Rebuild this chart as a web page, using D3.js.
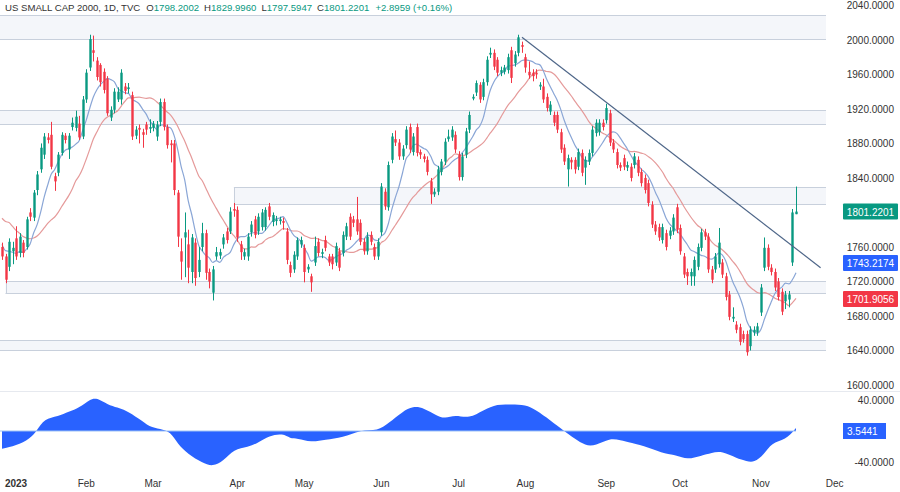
<!DOCTYPE html>
<html>
<head>
<meta charset="utf-8">
<script src="https://cdn.jsdelivr.net/npm/d3@7"></script>
<style>
  body { margin: 0; background: #fff; }
  svg { font-family: "Liberation Sans", Arial, sans-serif; }
</style>
</head>
<body>
<svg id="chart" width="900" height="492"></svg>
<script>
// candles (last days of Dec 2022 through 14 Nov 2023)
var opens = [1760,1749,1737,1755,1770,1753,1765,1760,1800,1794,1826,1850,1867,1887,1890,1842,1846,1869,1889,1873,1899,1898,1903,1888,1931,1968,1988,1976,1971,1963,1955,1910,1919,1931,1931,1946,1943,1936,1889,1898,1893,1902,1897,1898,1888,1905,1928,1899,1880,1880,1823,1755,1771,1763,1731,1765,
  1731,1760,1776,1731,1707,1749,1750,1763,1778,1778,1804,1803,1763,1749,1749,1777,1792,1778,1783,1783,1807,1789,1790,1790,1790,1778,1739,1734,1749,1763,1759,1734,1726,1742,1766,1752,1768,1749,1749,1742,1755,1753,1772,1795,1792,1792,1788,1766,1755,1774,1760,1749,1777,1824,1806,1861,1885,
  1881,1865,1878,1899,1870,1899,1870,1865,1861,1836,1821,1824,1847,1859,1885,1887,1890,1867,1841,1867,1896,1932,1939,1948,1934,1951,1983,1985,1977,1962,1963,1965,1988,1973,1985,1994,1980,1963,1962,1962,1946,1946,1934,1917,1913,1913,1893,1875,1850,1861,1861,1853,1869,1852,1859,1869,1892,1893,1904,1907,1915,1881,1870,1855,1863,1852,1853,1855,1861,1847,1840,1834,1809,1786,1783,1768,1776,1773,1778,1806,1782,1749,1731,1726,1726,1737,1759,1777,1772,1734,1734,1740,1742,1726,1705,1677,1670,1667,1659,1659,1645,1661,1661,1684,1736,1759,1736,1731,1720,1708,1697,1699,1742,1798];
var highs = [1765,1752,1770,1766,1784,1776,1768,1795,1805,1826,1848,1880,1892,1892,1905,1846,1870,1893,1892,1892,1910,1918,1912,1935,1966,2006,2005,1980,1973,1967,1958,1923,1944,1945,1966,1950,1950,1940,1900,1902,1897,1905,1908,1906,1906,1932,1932,1902,1884,1884,1826,1770,1800,1780,1775,1770,
  1760,1788,1780,1735,1738,1760,1758,1775,1782,1806,1811,1807,1767,1758,1776,1790,1796,1799,1804,1806,1811,1800,1796,1795,1794,1782,1743,1755,1771,1772,1763,1740,1729,1772,1770,1758,1773,1752,1752,1765,1759,1778,1788,1799,1796,1818,1792,1770,1777,1778,1764,1770,1834,1828,1859,1892,1895,
  1885,1878,1900,1903,1892,1903,1873,1868,1865,1840,1828,1854,1862,1886,1896,1900,1894,1871,1869,1898,1917,1937,1953,1951,1955,1981,1991,1989,1980,1969,1971,1984,1992,1987,2006,1998,1984,1975,1966,1966,1951,1955,1938,1929,1917,1917,1897,1879,1867,1864,1864,1874,1873,1865,1873,1900,1908,1908,1908,1926,1919,1885,1874,1858,1867,1859,1857,1869,1865,1851,1844,1838,1813,1790,1787,1787,1780,1783,1798,1810,1786,1753,1735,1735,1749,1764,1781,1781,1776,1738,1753,1782,1746,1730,1709,1690,1674,1671,1663,1663,1668,1668,1672,1717,1771,1763,1740,1735,1724,1712,1709,1709,1804,1830];
var lows = [1745,1718,1732,1740,1745,1748,1748,1757,1790,1790,1820,1846,1862,1880,1850,1825,1842,1866,1880,1862,1895,1894,1884,1885,1927,1964,1975,1953,1946,1938,1912,1906,1915,1928,1925,1937,1938,1884,1885,1880,1875,1890,1892,1894,1883,1900,1895,1874,1858,1820,1760,1722,1725,1718,1718,1715,
  1725,1755,1722,1712,1698,1745,1746,1758,1764,1775,1795,1766,1745,1745,1744,1772,1770,1774,1779,1779,1791,1784,1785,1786,1780,1740,1725,1730,1745,1759,1719,1730,1708,1738,1749,1747,1755,1738,1734,1738,1732,1749,1768,1768,1783,1774,1762,1751,1751,1762,1745,1745,1773,1803,1802,1857,1877,
  1861,1861,1874,1869,1866,1865,1862,1858,1843,1810,1818,1820,1843,1855,1882,1883,1869,1837,1837,1863,1892,1930,1935,1927,1930,1947,1979,1965,1958,1958,1960,1961,1950,1969,1981,1985,1962,1955,1952,1955,1942,1927,1917,1913,1900,1892,1869,1855,1830,1850,1845,1849,1842,1832,1855,1865,1888,1889,1895,1903,1877,1869,1851,1848,1849,1848,1836,1851,1842,1830,1822,1807,1782,1774,1767,1764,1756,1769,1774,1776,1751,1724,1716,1715,1715,1733,1755,1768,1730,1718,1730,1736,1724,1698,1675,1673,1660,1646,1649,1634,1640,1657,1657,1680,1732,1733,1727,1709,1698,1681,1688,1690,1738,1798];
var closes = [1749,1722,1766,1759,1749,1772,1753,1792,1795,1823,1844,1875,1888,1884,1853,1836,1867,1890,1884,1889,1904,1911,1887,1931,1962,2001,1985,1957,1951,1942,1915,1919,1940,1940,1962,1941,1945,1888,1896,1896,1890,1896,1899,1903,1902,1928,1899,1878,1878,1826,1772,1743,1777,1736,1771,1724,
  1745,1776,1730,1720,1734,1754,1754,1771,1768,1801,1802,1771,1754,1754,1772,1786,1774,1795,1800,1803,1795,1797,1792,1792,1788,1745,1730,1751,1768,1768,1731,1737,1719,1761,1753,1754,1759,1742,1740,1761,1736,1774,1784,1772,1788,1778,1766,1755,1772,1766,1749,1766,1830,1807,1855,1888,1881,
  1865,1874,1896,1873,1888,1869,1867,1862,1847,1821,1824,1850,1859,1882,1888,1896,1873,1841,1865,1894,1913,1934,1950,1931,1951,1977,1985,1969,1962,1965,1968,1980,1956,1983,2003,1992,1968,1959,1958,1960,1948,1931,1921,1925,1904,1896,1873,1859,1863,1858,1850,1870,1846,1861,1869,1896,1904,1904,1899,1921,1881,1873,1855,1852,1853,1855,1840,1865,1846,1834,1826,1811,1786,1778,1771,1783,1760,1779,1794,1780,1755,1728,1726,1731,1745,1760,1777,1772,1734,1722,1749,1765,1728,1702,1679,1679,1664,1650,1653,1638,1664,1664,1668,1713,1759,1737,1731,1713,1702,1685,1705,1705,1800,1801];
// closes before the first drawn candle, only feed the moving averages
var priorCloses = [1850,1842,1838,1830,1825,1812,1805,1798,1790,1785,1780,1772,1768,1760,1755,1758,1762];

var monthLabels = ["2023","Feb","Mar","Apr","May","Jun","Jul","Aug","Sep","Oct","Nov","Dec"];
var monthIdx = [4,24,43,67,86,108,130,149,172,193,216,237];
var priceTicks = [1600,1640,1680,1720,1760,1800,1840,1880,1920,1960,2000,2040];

// shaded support / resistance zones [from index, low, high]
var zones = [[-5,2001,2029],[-5,1902,1919],[66,1810,1829],[1,1707,1721],[-5,1641,1652]];
var trendIdx = [148,233];
var trendPrice = [2003,1736];

// lower pane oscillator, read at these candle indices
var oscIdx = [0,4,8,10,12,16,19,22,25,27,30,33,35,39,42,45,48,50,53,57,60,63,66,70,73,76,80,82,84,88,92,97,102,107,110,114,117,120,124,126,129,133,137,141,145,149,152,156,160,163,166,169,173,176,179,184,189,192,195,199,202,205,209,212,214,217,219,223,226];
var oscVal = [-23,-19,-10,1,16,19,25,30,41,43,34,30,27,16,5,3,-1,-17,-30,-41,-46,-39,-23,-21,-15,-6,-3,-10,-9,-15,-11,-9,2,0,10,25,32,30,19,16,21,16,27,35,34,34,27,14,0,-10,-19,-19,-9,-12,-15,-21,-30,-31,-37,-32,-28,-26,-35,-39,-41,-30,-15,-12,4];

var green = "#089981", red = "#f23645";
var fs = 10;
var svg = d3.select("#chart");
var plotR = 826;

var x = d3.scaleLinear().domain([0, 226]).range([2, 796]);
var y = d3.scaleLinear().domain([1600, 2040]).range([385, 5.4]);
var yo = d3.scaleLinear().domain([-40, 40]).range([462, 400]);

// zones: light fill, horizontal borders, left edge only where the zone starts inside the chart
zones.forEach(function(z) {
  var x0 = Math.max(0, x(z[0]));
  var yt = Math.round(y(z[2])) + 0.5, yb = Math.round(y(z[1])) + 0.5;
  svg.append("rect").attr("x", x0).attr("y", yt).attr("width", plotR - x0)
    .attr("height", yb - yt).attr("fill", "#f4f6fa");
  [yt, yb].forEach(function(yy) {
    svg.append("line").attr("x1", x0).attr("x2", plotR).attr("y1", yy).attr("y2", yy).attr("stroke", "#c8d0dc");
  });
  if (z[0] > -5) {
    svg.append("line").attr("x1", Math.round(x0) + 0.5).attr("x2", Math.round(x0) + 0.5).attr("y1", yt).attr("y2", yb).attr("stroke", "#c8d0dc");
  }
});

// moving averages
function sma(n) {
  var all = priorCloses.concat(closes), off = priorCloses.length;
  return closes.map(function(c, i) {
    var j = i + off, s = all.slice(Math.max(0, j - n + 1), j + 1);
    return d3.mean(s);
  });
}
var line = d3.line().x(function(d, i) { return x(i); }).y(function(d) { return y(d); }).curve(d3.curveMonotoneX);
svg.append("path").attr("d", line(sma(20))).attr("fill", "none").attr("stroke", "#e59a9a").attr("stroke-width", 1.2);
svg.append("path").attr("d", line(sma(8))).attr("fill", "none").attr("stroke", "#8aa6d6").attr("stroke-width", 1.2);

// candles
var cw = 2.4;
var g = svg.append("g");
closes.forEach(function(c, i) {
  var col = c >= opens[i] ? green : red;
  var cx = Math.round(x(i)) + 0.5;
  g.append("line").attr("x1", cx).attr("x2", cx).attr("y1", y(highs[i])).attr("y2", y(lows[i]))
    .attr("stroke", col).attr("stroke-width", 1);
  var top = y(Math.max(c, opens[i])), bot = y(Math.min(c, opens[i]));
  g.append("rect").attr("x", cx - cw / 2).attr("y", top).attr("width", cw)
    .attr("height", Math.max(1, bot - top)).attr("fill", col);
});

// trendline
svg.append("line").attr("x1", x(trendIdx[0])).attr("y1", y(trendPrice[0]))
  .attr("x2", x(trendIdx[1])).attr("y2", y(trendPrice[1])).attr("stroke", "#4e6688").attr("stroke-width", 1.2);

// price badges (ticks hidden behind them, like the original)
var badgeY = [y(closes[closes.length - 1]), 263, 299];
svg.selectAll(".pt").data(priceTicks.filter(function(d) {
    return badgeY.every(function(b) { return Math.abs(y(d) - b) > 12; });
  })).enter().append("text")
  .attr("x", 894).attr("y", function(d) { return y(d) + 4; }).attr("text-anchor", "end")
  .attr("font-size", fs).attr("fill", "#333").text(function(d) { return d.toFixed(4); });

function badge(yy, col, txt) {
  svg.append("rect").attr("x", 843).attr("y", yy - 8).attr("width", 55).attr("height", 16).attr("fill", col).attr("rx", 1);
  svg.append("text").attr("x", 870.5).attr("y", yy + 4).attr("text-anchor", "middle")
    .attr("font-size", fs).attr("fill", "#fff").text(txt);
}
badge(badgeY[0], green, "1801.2201");
badge(badgeY[1], "#2962ff", "1743.2174");
badge(badgeY[2], red, "1701.9056");

// pane separator
svg.append("line").attr("x1", 0).attr("x2", 900).attr("y1", 391.5).attr("y2", 391.5).attr("stroke", "#e6e9ef");

// oscillator
var area = d3.area().x(function(d, i) { return x(oscIdx[i]); }).y0(yo(0)).y1(function(d) { return yo(d); }).curve(d3.curveBasis);
svg.append("path").attr("d", area(oscVal)).attr("fill", "#2962ff");
svg.append("line").attr("x1", 0).attr("x2", x(226)).attr("y1", yo(0)).attr("y2", yo(0)).attr("stroke", "#9ec2f5").attr("stroke-width", 1);
[40, -40].forEach(function(v) {
  svg.append("text").attr("x", 894).attr("y", yo(v) + 4).attr("text-anchor", "end")
    .attr("font-size", fs).attr("fill", "#333").text(v.toFixed(4));
});
svg.append("rect").attr("x", 843).attr("y", yo(0) - 8).attr("width", 43).attr("height", 16).attr("fill", "#2962ff");
svg.append("text").attr("x", 847).attr("y", yo(0) + 4).attr("font-size", fs).attr("fill", "#fff").text("3.5441");

// time axis
svg.selectAll(".mt").data(monthLabels).enter().append("text")
  .attr("x", function(d, i) { return x(monthIdx[i]); }).attr("y", 487).attr("text-anchor", "middle")
  .attr("font-size", fs).attr("fill", "#333").attr("font-weight", function(d, i) { return i == 0 ? "bold" : "normal"; })
  .text(function(d) { return d; });

// header
var hdr = svg.append("text").attr("x", 5).attr("y", 11).attr("font-size", 9.6);
hdr.append("tspan").attr("fill", "#333").text("US SMALL CAP 2000, 1D, TVC");
hdr.append("tspan").attr("dx", 6).attr("fill", "#333").text("O");
hdr.append("tspan").attr("fill", green).text("1798.2002");
hdr.append("tspan").attr("dx", 5).attr("fill", "#333").text("H");
hdr.append("tspan").attr("fill", green).text("1829.9960");
hdr.append("tspan").attr("dx", 5).attr("fill", "#333").text("L");
hdr.append("tspan").attr("fill", green).text("1797.5947");
hdr.append("tspan").attr("dx", 5).attr("fill", "#333").text("C");
hdr.append("tspan").attr("fill", green).text("1801.2201");
hdr.append("tspan").attr("dx", 6).attr("fill", green).text("+2.8959 (+0.16%)");
</script>
</body>
</html>
